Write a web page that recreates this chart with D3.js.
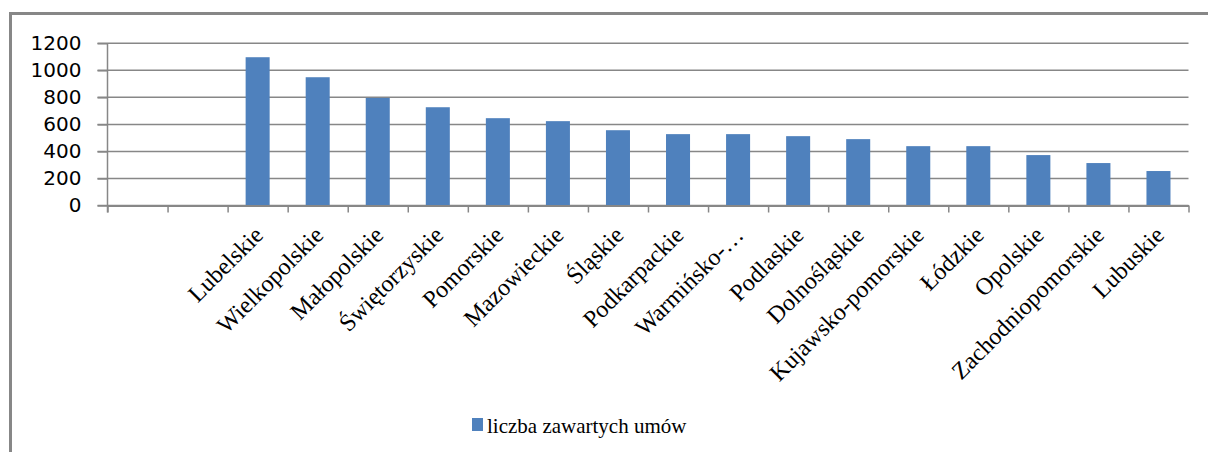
<!DOCTYPE html>
<html>
<head>
<meta charset="utf-8">
<script src="https://cdn.jsdelivr.net/npm/d3@7"></script>
<style>
    body { margin: 0; background: #fff; }
    .axis path, .axis line { stroke: #878787; }
    .grid line { stroke: #878787; stroke-width: 1.5; }
</style>
</head>
<body>
<div id="chart"></div>
<script>
// two empty slots at the start, as in the source sheet
var categories = ['', '', 'Lubelskie', 'Wielkopolskie', 'Małopolskie', 'Świętorzyskie', 'Pomorskie',
    'Mazowieckie', 'Śląskie', 'Podkarpackie', 'Warmińsko-…', 'Podlaskie', 'Dolnośląskie',
    'Kujawsko-pomorskie', 'Łódzkie', 'Opolskie', 'Zachodniopomorskie', 'Lubuskie'];
var values = [null, null, 1097, 949, 796, 727, 646, 624, 557, 528, 528, 513, 491, 439, 439, 373, 314, 255];
var yTicks = [0, 200, 400, 600, 800, 1000, 1200];
var seriesName = 'liczba zawartych umów';

var W = 1208, H = 452;
var plot = { l: 107.5, r: 1188.5, t: 43.3, b: 205.5 };
var barColor = '#4f81bd';

var svg = d3.select('#chart').append('svg')
    .attr('width', W)
    .attr('height', H);

// chart frame (right and bottom edges fall outside the crop)
svg.append('rect')
    .attr('x', 10.5).attr('y', 13.5)
    .attr('width', 1210).attr('height', 450)
    .attr('fill', 'none')
    .attr('stroke', '#878787')
    .attr('stroke-width', 3);

var idx = d3.range(categories.length);

var x = d3.scaleBand()
    .domain(idx)
    .range([plot.l, plot.r])
    .paddingInner(0.6)
    .paddingOuter(0.3);

var xEdge = d3.scaleLinear()
    .domain([0, categories.length])
    .range([plot.l, plot.r]);

var y = d3.scaleLinear()
    .domain([0, 1200])
    .range([plot.b, plot.t]);

// gridlines
svg.append('g')
    .attr('class', 'grid')
    .selectAll('line')
    .data(yTicks)
    .join('line')
        .attr('x1', plot.l - 10)
        .attr('x2', plot.r)
        .attr('y1', d => y(d))
        .attr('y2', d => y(d));

// y axis
var yAxis = svg.append('g')
    .attr('class', 'axis')
    .attr('transform', 'translate(' + plot.l + ',0)')
    .call(d3.axisLeft(y).tickValues(yTicks).tickFormat(d3.format('d'))
        .tickSize(10).tickPadding(16).tickSizeOuter(0));
yAxis.select('.domain').attr('stroke-width', 1.5).attr('d', 'M0,' + plot.t + 'V' + (plot.b + 7));
yAxis.selectAll('line').attr('stroke-width', 1.5);
yAxis.selectAll('text')
    .attr('font-family', 'DejaVu Sans')
    .attr('font-size', 20)
    .attr('fill', '#000');

// bars
svg.append('g')
    .selectAll('rect')
    .data(idx.filter(i => values[i] != null))
    .join('rect')
        .attr('x', i => x(i))
        .attr('width', x.bandwidth())
        .attr('y', i => y(values[i]))
        .attr('height', i => y(0) - y(values[i]))
        .attr('fill', barColor);

// x axis, ticks between categories
var xAxis = svg.append('g')
    .attr('class', 'axis')
    .attr('transform', 'translate(0,' + plot.b + ')')
    .call(d3.axisBottom(xEdge).tickValues(d3.range(categories.length + 1))
        .tickSize(7).tickSizeOuter(0).tickFormat(''));
xAxis.select('.domain').attr('stroke-width', 2);
xAxis.selectAll('line').attr('stroke-width', 1.5);

// rotated category labels
svg.append('g')
    .selectAll('text')
    .data(idx.filter(i => categories[i] !== ''))
    .join('text')
        .attr('transform', i => 'translate(' + (x(i) + x.bandwidth() / 2 + 7) + ',' + (plot.b + 31) + ') rotate(-45)')
        .attr('text-anchor', 'end')
        .attr('font-family', '"Liberation Serif", "Times New Roman", serif')
        .attr('font-size', 24)
        .attr('fill', '#000')
        .text(i => categories[i]);

// legend
var legend = svg.append('g').attr('transform', 'translate(472,418)');
legend.append('rect')
    .attr('width', 11).attr('height', 13)
    .attr('fill', barColor);
legend.append('text')
    .attr('x', 15).attr('y', 15)
    .attr('font-family', '"Liberation Serif", "Times New Roman", serif')
    .attr('font-size', 21)
    .attr('fill', '#000')
    .text(seriesName);
</script>
</body>
</html>
